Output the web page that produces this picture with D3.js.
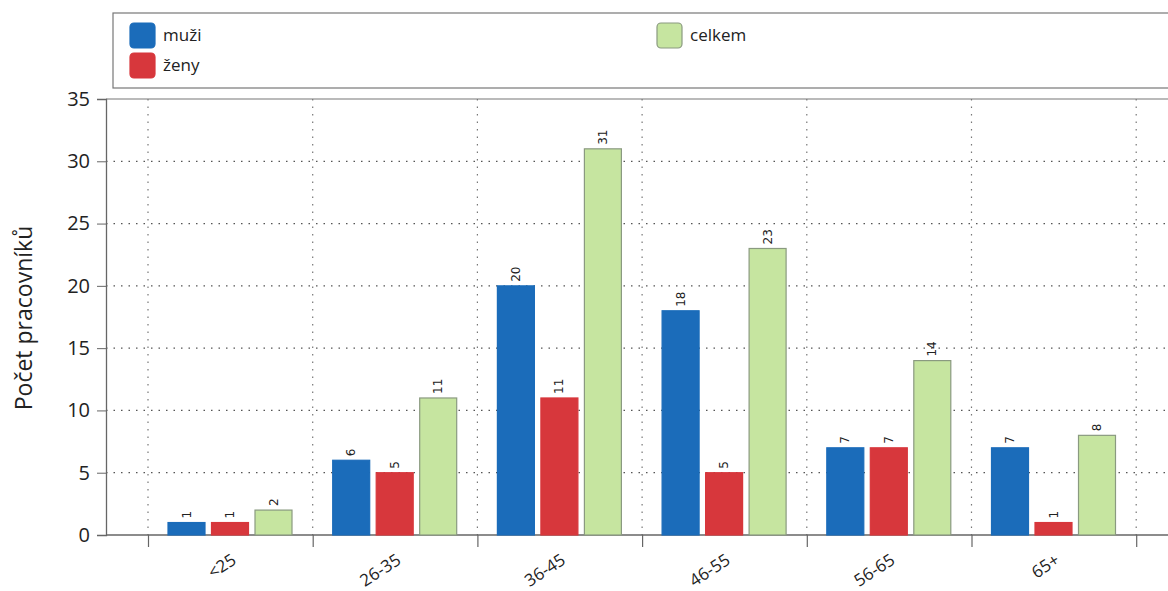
<!DOCTYPE html>
<html><head><meta charset="utf-8">
<script src="https://cdn.jsdelivr.net/npm/d3@7/dist/d3.min.js"></script>
<style>body{margin:0;background:#fff}svg{display:block}</style>
</head><body>
<svg id="c" width="1168" height="591"></svg>
<script>
const categories = ["<25","26-35","36-45","46-55","56-65","65+"];
const muzi   = [1,6,20,18,7,7];
const zeny   = [1,5,11,5,7,1];
const celkem = [2,11,31,23,14,8];
const seriesNames = ["muži","ženy","celkem"];
const yTicks = [0,5,10,15,20,25,30,35];

const colors = ["#1b6cba","#d7373c","#c6e5a0"];
const strokes = ["#1b6cba","#d7373c","#8a9a80"];
const svg = d3.select("#c");
const font = "'Open Sans', Lato, sans-serif";

const y = d3.scaleLinear().domain([0,35]).range([535,99]);
const gw = 164.7;
const x = d3.scaleLinear().domain([0,6]).range([148,148+6*gw]);
const axisX = 106;

// gridlines
const g = svg.append("g");
yTicks.filter(t=>t>0 && t<35).forEach(t=>{
  g.append("line").attr("x1",axisX).attr("x2",1168).attr("y1",y(t)).attr("y2",y(t))
   .attr("stroke","#555").attr("stroke-width",1.2).attr("stroke-dasharray","1.5,6");
});
d3.range(0,7).forEach(i=>{
  g.append("line").attr("x1",x(i)).attr("x2",x(i)).attr("y1",y(35)).attr("y2",y(0))
   .attr("stroke","#777").attr("stroke-width",1.2).attr("stroke-dasharray","1.5,6");
});

// plot border top
svg.append("line").attr("x1",axisX).attr("x2",1168).attr("y1",y(35)).attr("y2",y(35)).attr("stroke","#777").attr("stroke-width",1.2);

// y axis
const yAxis = d3.axisLeft(y).tickValues(yTicks).tickSize(9).tickPadding(7);
const ya = svg.append("g").attr("transform",`translate(${axisX},0)`).call(yAxis);
ya.select(".domain").attr("stroke","#666").attr("stroke-width",1.3);
ya.selectAll(".tick line").attr("stroke","#666");
ya.selectAll("text").attr("font-family",font).attr("font-size",20).attr("fill","#222");

// x axis
svg.append("line").attr("x1",axisX).attr("x2",1168).attr("y1",y(0)).attr("y2",y(0)).attr("stroke","#666").attr("stroke-width",1.3);
const xAxis = d3.axisBottom(x).tickValues(d3.range(0,7)).tickSize(12).tickFormat("");
const xa = svg.append("g").attr("transform",`translate(0,${y(0)})`).call(xAxis);
xa.select(".domain").remove();
xa.selectAll(".tick line").attr("stroke","#666").attr("stroke-width",1.2);

// category labels
categories.forEach((c,i)=>{
  const cx = x(i+0.5) + 7;
  svg.append("text").attr("transform",`translate(${cx},${563}) rotate(-33)`)
    .attr("text-anchor","end").attr("font-family",font).attr("font-size",17).attr("fill","#222").text(c);
});

// bars
const data = [muzi,zeny,celkem];
const bw = 37, step = 43.5, off = 20;
data.forEach((arr,s)=>{
  svg.append("g").selectAll("rect").data(arr).join("rect")
    .attr("x",(d,i)=>x(i)+off+s*step)
    .attr("y",d=>y(d)).attr("width",bw).attr("height",d=>y(0)-y(d))
    .attr("fill",colors[s]).attr("stroke",strokes[s]).attr("stroke-width",1.2);
  svg.append("g").selectAll("text").data(arr).join("text")
    .attr("transform",(d,i)=>`translate(${x(i)+off+s*step+bw/2+4},${y(d)-4}) rotate(-90)`)
    .attr("font-family","'DejaVu Sans', sans-serif").attr("font-size",12).attr("fill","#222")
    .text(d=>d);
});

// y label
svg.append("text").attr("transform","translate(32,318) rotate(-90)").attr("text-anchor","middle")
  .attr("font-family",font).attr("font-size",23).attr("fill","#222").text("Počet pracovníků");

// legend
svg.append("rect").attr("x",113).attr("y",13).attr("width",1070).attr("height",75)
  .attr("fill","#fff").attr("stroke","#777").attr("stroke-width",1.2);
const leg = [{x:130,y:23,s:0},{x:130,y:53,s:1},{x:657,y:23,s:2}];
leg.forEach(l=>{
  svg.append("rect").attr("x",l.x).attr("y",l.y).attr("width",25).attr("height",25).attr("rx",4)
    .attr("fill",colors[l.s]).attr("stroke",strokes[l.s]).attr("stroke-width",1.2);
  svg.append("text").attr("x",l.x+33).attr("y",l.y+18).attr("font-family",font).attr("font-size",17)
    .attr("fill","#222").text(seriesNames[l.s]);
});
</script>
</body></html>
